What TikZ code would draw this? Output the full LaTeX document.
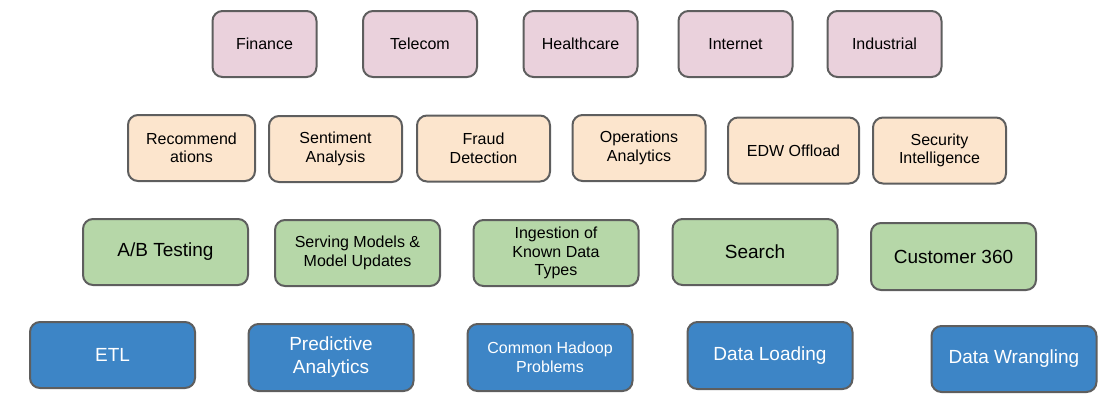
\documentclass[tikz,border=0pt]{standalone}
\usepackage{fontspec}
\setmainfont{Liberation Sans}
\usepackage{tikz}
\definecolor{edgegray}{HTML}{5E5E5E}
\definecolor{pinkfill}{HTML}{EAD1DC}
\definecolor{peachfill}{HTML}{FCE5CD}
\definecolor{greenfill}{HTML}{B6D7A8}
\definecolor{bluefill}{HTML}{3D85C6}
\begin{document}
\begin{tikzpicture}[x=1pt, y=-1pt,
	box/.style={draw=edgegray, line width=2pt, rounded corners=10pt, inner sep=0pt, align=center, minimum height=66pt, font=\fontsize{16}{18.5}\selectfont},
	bigtxt/.style={font=\fontsize{19}{23}\selectfont},
	industry/.style={box, fill=pinkfill, minimum width=114pt},
	usecase/.style={box, fill=peachfill, minimum width=133pt},
	pattern/.style={box, fill=greenfill, minimum width=165pt},
	problem/.style={box, fill=bluefill, minimum width=165pt, text=white}]
	\useasboundingbox (0,0) rectangle (1116,408);
	% industries
	\node[industry, minimum width=104pt] (fin) at (264.5,44) {Finance};
	\node[industry] (tel) at (420,44) {Telecom};
	\node[industry] (hea) at (580.5,44) {Healthcare};
	\node[industry] (int) at (735.5,44) {Internet};
	\node[industry] (ind) at (884.5,44) {Industrial};
	% use cases
	\node[usecase, minimum width=127pt] (rec) at (191.5,148) {Recommend\\ations};
	\node[usecase] (sen) at (335.5,149) {Sentiment\\Analysis};
	\node[usecase] (fra) at (483.5,148.5) {Fraud\\Detection};
	\node[usecase] (ops) at (639,148) {Operations\\Analytics};
	\node[usecase, minimum width=131pt] (edw) at (793.5,150.5) {EDW Offload};
	\node[usecase] (sec) at (939.5,150.5) {Security\\Intelligence};
	% patterns
	\node[pattern, bigtxt] (abt) at (165.5,252) {A/B Testing};
	\node[pattern] (srv) at (357.5,253) {Serving Models \&\\Model Updates};
	\node[pattern] (ing) at (556,253) {Ingestion of\\Known Data\\Types};
	\node[pattern, bigtxt] (sea) at (755,252) {Search};
	\node[pattern, bigtxt, minimum height=67pt] (cus) at (953.5,256.5) {Customer 360};
	% problems
	\node[problem, bigtxt] (etl) at (112.5,355) {ETL};
	\node[problem, bigtxt, minimum height=67pt] (pre) at (331,357.5) {Predictive\\Analytics};
	\node[problem, minimum height=67pt] (hdp) at (550,357.5) {Common Hadoop\\Problems};
	\node[problem, bigtxt, minimum height=67pt] (dld) at (770,355.5) {Data Loading};
	\node[problem, bigtxt] (dwr) at (1014,359) {Data Wrangling};
\end{tikzpicture}
\end{document}
